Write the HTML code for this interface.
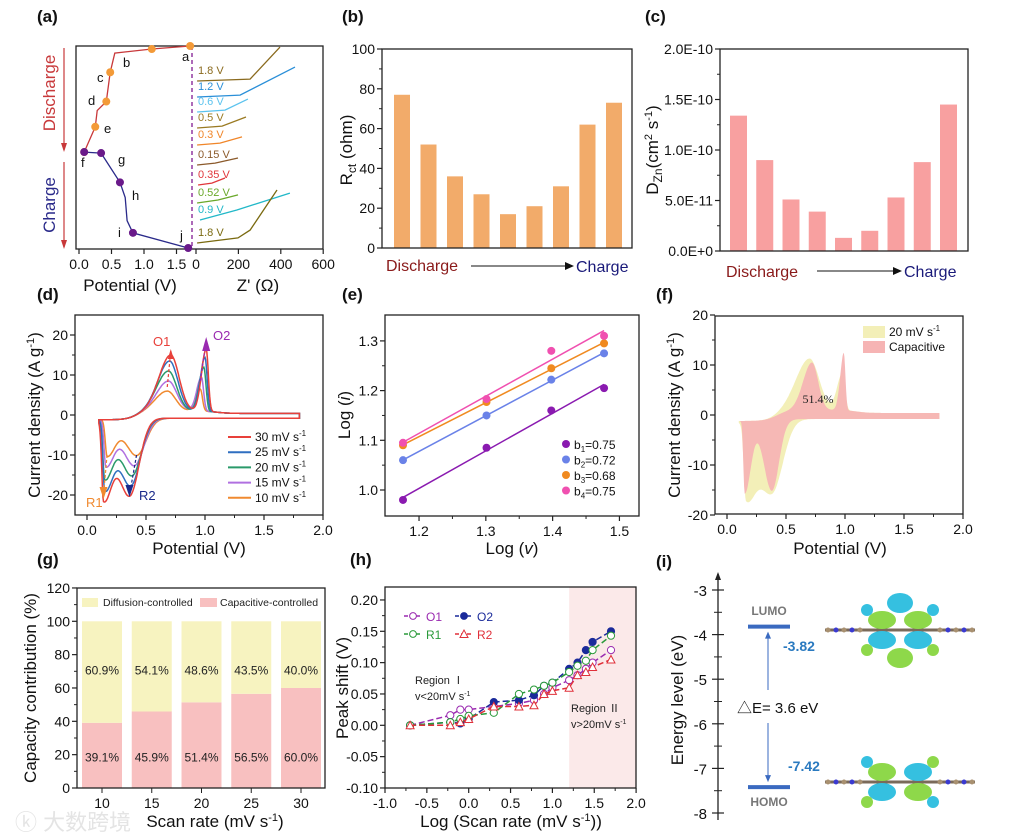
<!DOCTYPE html>
<html><head><meta charset="utf-8"><style>
html,body{margin:0;padding:0;background:#fff;}
svg{display:block;font-family:"Liberation Sans","Noto Sans CJK SC",sans-serif;}
</style></head><body>
<svg id="fig" width="1019" height="837" viewBox="0 0 1019 837" xmlns="http://www.w3.org/2000/svg">
<rect x="0" y="0" width="1019" height="837" fill="#fff"/>
<g font-weight="bold" font-size="17" fill="#111">
<text x="37" y="22">(a)</text>
<text x="342" y="22">(b)</text>
<text x="645" y="22">(c)</text>
<text x="37" y="300">(d)</text>
<text x="342" y="300">(e)</text>
<text x="656" y="300">(f)</text>
<text x="37" y="565">(g)</text>
<text x="350" y="565">(h)</text>
<text x="656" y="567">(i)</text>
</g>
<text x="15" y="830" font-size="22" fill="#e4e4e4">ⓚ 大数跨境</text>
</svg>
<script>
const NS='http://www.w3.org/2000/svg';
const svg=document.getElementById('fig');
function mk(tag,attrs,parent){const e=document.createElementNS(NS,tag);for(const k in attrs)e.setAttribute(k,attrs[k]);(parent||svg).appendChild(e);return e;}
function txt(x,y,s,attrs,n,parent){const e=mk('text',Object.assign({x:x,y:y},attrs||{}),parent);e.textContent=s;


return e;}
function box(x0,y0,x1,y1,n){const r=mk('rect',{x:x0,y:y0,width:x1-x0,height:y1-y0,fill:'none',stroke:'#222','stroke-width':1.3});

}
function yTicks(vals,labels,fy,x,n,minor){vals.forEach((v,i)=>{const y=fy(v);mk('line',{x1:x-5,x2:x,y1:y,y2:y,stroke:'#222','stroke-width':1.2});
if(minor&&i<vals.length-1){const ym=(y+fy(vals[i+1]))/2;mk('line',{x1:x-3,x2:x,y1:ym,y2:ym,stroke:'#222'});}
txt(x-7,y+5,labels[i],{'text-anchor':'end','font-size':14,fill:'#111'},n);});}
function xTicks(vals,labels,fx,y,n,minor){vals.forEach((v,i)=>{const x=fx(v);mk('line',{x1:x,x2:x,y1:y,y2:y+5,stroke:'#222','stroke-width':1.2});
if(minor&&i<vals.length-1){const xm=(x+fx(vals[i+1]))/2;mk('line',{x1:xm,x2:xm,y1:y,y2:y+3,stroke:'#222'});}
txt(x,y+20,labels[i],{'text-anchor':'middle','font-size':14,fill:'#111'},n);});}
function rotTitle(x,y,s,n,size){const g=mk('g',{transform:'translate('+x+' '+y+') rotate(-90)'});
const t=txt(0,0,s,{'text-anchor':'middle','font-size':size||16,fill:'#111'},n,g);return t;}
function pathD(pts){return pts.map((p,i)=>(i?'L':'M')+p[0].toFixed(1)+' '+p[1].toFixed(1)).join(' ');}

/* ============ PANEL A DATA ============ */
const aDisPot=[1.71,1.12,0.55,0.48,0.42,0.28,0.25,0.08];
const aDisFrac=[0,0.015,0.035,0.13,0.275,0.32,0.40,0.525];
const aDisDot=[1,1,0,1,1,0,1,1];
const aChgPot=[0.08,0.34,0.63,0.71,0.74,0.83,1.68];
const aChgFrac=[0.525,0.53,0.675,0.75,0.865,0.925,1.0];
const aChgDot=[1,1,1,0,0,1,1];
const eisLabels=['1.8 V','1.2 V','0.6 V','0.5 V','0.3 V','0.15 V','0.35 V','0.52 V','0.9 V','1.8 V'];
const eisColors=['#8a6a1e','#2a8fd8','#5cc3ee','#9a7a22','#f0862a','#8b5a2b','#e0363a','#6aa82a','#22b8c8','#7a6a10'];
const eisBase=[81,97,112,128,145,165,185,203,220,243];
const eisZre=[[5,255,396],[5,208,467],[5,137,245],[5,123,236],[5,113,217],[5,90,198],[10,75,137],[5,104,198],[19,193,443],[5,198,255,382]];
const eisZim=[[0,9,160],[0,9,141],[0,9,61],[0,9,52],[0,9,38],[0,9,33],[0,9,33],[0,14,38],[0,47,127],[0,24,61,250]];
const xa=v=>79+65*v, ya=f=>46+f*202, xz=z=>196+0.212*z;
box(76,46,323,249,'panel-a-plot-area');
mk('line',{x1:192,x2:192,y1:46,y2:249,stroke:'#8a2a9a','stroke-width':1.4,'stroke-dasharray':'4 3'});
xTicks([0,0.5,1.0,1.5],['0.0','0.5','1.0','1.5'],xa,249,'a-potential-tick');
xTicks([0,200,400,600],['0','200','400','600'],xz,249,'a-zre-tick');
txt(130,291,'Potential (V)',{'text-anchor':'middle','font-size':17,fill:'#111'},'a-x-title-potential');
txt(258,291,"Z' (Ω)",{'text-anchor':'middle','font-size':17,fill:'#111'},'a-x-title-zre');
mk('line',{x1:64,x2:64,y1:48,y2:150,stroke:'#c8383a','stroke-width':1.2});
mk('path',{d:'M61 143 L64 152 L67 143 Z',fill:'#c8383a'});
mk('line',{x1:64,x2:64,y1:162,y2:247,stroke:'#c8383a','stroke-width':1.2});
mk('path',{d:'M61 240 L64 249 L67 240 Z',fill:'#c8383a'});
rotTitle(55,93,'Discharge','discharge-axis-label',17).setAttribute('fill','#c8383a');
rotTitle(55,205,'Charge','charge-axis-label',17).setAttribute('fill','#2a2a8a');
const disPts=aDisPot.map((p,i)=>[xa(p),ya(aDisFrac[i])]);
const disLine=mk('path',{d:pathD(disPts),fill:'none',stroke:'#c8383a','stroke-width':1.3});


const chgPts=aChgPot.map((p,i)=>[xa(p),ya(aChgFrac[i])]);
const chgLine=mk('path',{d:pathD(chgPts),fill:'none',stroke:'#2a2a8a','stroke-width':1.3});


disPts.forEach((p,i)=>{if(aDisDot[i]){const c=mk('circle',{cx:p[0],cy:p[1],r:4,fill:'#f39a38'});

}});
chgPts.forEach((p,i)=>{if(aChgDot[i]){const c=mk('circle',{cx:p[0],cy:p[1],r:4,fill:'#6a1a8a'});

}});
[['a',182,61],['b',123,67],['c',97,82],['d',88,105],['e',104,133],['f',81,167],['g',118,164],['h',132,200],['i',118,237],['j',180,240]].forEach(l=>txt(l[1],l[2],l[0],{'font-size':13,fill:'#111'},'state-letter'));
eisLabels.forEach((lab,k)=>{const pts=eisZre[k].map((z,j)=>[xz(z),eisBase[k]-eisZim[k][j]*0.212]);
const p=mk('path',{d:pathD(pts),fill:'none',stroke:eisColors[k],'stroke-width':1.3});


txt(198,eisBase[k]-7,lab,{'font-size':11,fill:eisColors[k]},'eis-label');});

/* ============ PANEL B ============ */
const bVals=[77,52,36,27,17,21,31,62,73];
const yb=v=>248-1.99*v, xb=i=>394+26.5*i;
bVals.forEach((v,i)=>{const r=mk('rect',{x:xb(i),y:yb(v),width:16,height:248-yb(v),fill:'#f2ab6a'});

});
box(382,49,632,248,'panel-b-plot-area');
yTicks([0,20,40,60,80,100],['0','20','40','60','80','100'],yb,382,'b-y-tick',true);
const rb=rotTitle(352,150,'','b-y-title',17);rb.innerHTML='R<tspan font-size="12" dy="4">ct</tspan><tspan dy="-4"> (ohm)</tspan>';
txt(386,271,'Discharge',{'font-size':16,fill:'#8a1a1a'},'b-discharge-label');
mk('line',{x1:471,x2:565,y1:266,y2:266,stroke:'#111'});mk('path',{d:'M565 262 L574 266 L565 270 Z',fill:'#111'});
txt(576,272,'Charge',{'font-size':16,fill:'#1a1a7a'},'b-charge-label');

/* ============ PANEL C ============ */
const cVals=[1.34,0.90,0.51,0.39,0.13,0.20,0.53,0.88,1.45];
const yc=v=>251-101*v, xc=i=>730+26.25*i;
cVals.forEach((v,i)=>{const r=mk('rect',{x:xc(i),y:yc(v),width:17,height:251-yc(v),fill:'#f8a0a0'});

});
box(720,49,968,251,'panel-c-plot-area');
yTicks([0,0.5,1.0,1.5,2.0],['0.0E+0','5.0E-11','1.0E-10','1.5E-10','2.0E-10'],yc,720,'c-y-tick',true);
const rc=rotTitle(658,150,'','c-y-title',17);rc.innerHTML='D<tspan font-size="12" dy="4">Zn</tspan><tspan dy="-4">(cm</tspan><tspan font-size="11" dy="-6">2</tspan><tspan dy="6"> s</tspan><tspan font-size="11" dy="-6">-1</tspan><tspan dy="6">)</tspan>';
txt(726,277,'Discharge',{'font-size':16,fill:'#8a1a1a'},'c-discharge-label');
mk('line',{x1:817,x2:893,y1:271,y2:271,stroke:'#111'});mk('path',{d:'M893 267 L902 271 L893 275 Z',fill:'#111'});
txt(904,277,'Charge',{'font-size':16,fill:'#1a1a7a'},'c-charge-label');

/* ============ PANEL D (CV) ============ */
const dRates=['30','25','20','15','10'];
const dColors=['#e8403a','#2f6fc0','#2a9a6a','#b070e0','#f08a30'];
const dO1=[16,14.5,12,9.5,7];
const dO2=[18.5,16.5,14,11.5,8.5];
const dR1=[-20.5,-18,-15.5,-12.5,-10];
const dR2=[-20,-17.5,-15,-12.5,-10];
const dPO1=[0.71,0.70,0.69,0.69,0.68];
const dPO2=[1.01,1.0,0.99,0.97,0.96];
const dPR1=[0.14,0.15,0.15,0.16,0.17];
const dPR2=[0.36,0.37,0.38,0.40,0.42];
const xd=E=>87+118*E, yd=I=>415-4*I;
function g2(E,p,sl,sr){const s=E<p?sl:sr;return Math.exp(-0.5*((E-p)/s)**2);}
function sig(x){return 1/(1+Math.exp(-x));}
function cvPoints(o1,o2,r1,r2,p1,p2,q1,q2,sc){const up=[],dn=[];
for(let E=0.1;E<=1.8001;E+=0.005){const b=-1.2+2.2*sig((E-0.42)/0.05)-0.6*sig((E-1.1)/0.05);
up.push([E,b+(o1-2)*g2(E,p1,0.1*sc,0.07*sc)+(o2-3)*g2(E,p2,0.04*sc,0.018*sc)]);}
for(let E=1.8;E>=0.0999;E-=0.005){const b=-0.8-0.4*sig((0.5-E)/0.05);
dn.push([E,b+(r2+1)*g2(E,q2,0.09*sc,0.08*sc)+(r1+1)*g2(E,q1,0.015*sc,0.07*sc)]);}
return up.concat(dn);}
box(75,315,323,515,'panel-d-plot-area');
yTicks([-20,-10,0,10,20],['-20','-10','0','10','20'],yd,75,'d-y-tick',true);
xTicks([0,0.5,1.0,1.5,2.0],['0.0','0.5','1.0','1.5','2.0'],xd,515,'d-x-tick',true);
rotTitle(40,415,'','d-y-title',17).innerHTML='Current density (A g<tspan font-size="11" dy="-6">-1</tspan><tspan dy="6">)</tspan>';
txt(199,554,'Potential (V)',{'text-anchor':'middle','font-size':17,fill:'#111'},'d-x-title');
for(let i=dRates.length-1;i>=0;i--){const pts=cvPoints(dO1[i],dO2[i],dR1[i],dR2[i],dPO1[i],dPO2[i],dPR1[i],dPR2[i],1).map(p=>[xd(p[0]),yd(p[1])]);
const p=mk('path',{d:pathD(pts)+' Z',fill:'none',stroke:dColors[i],'stroke-width':1.5});

}
mk('line',{x1:xd(0.68),y1:yd(7),x2:xd(0.71),y2:yd(16),stroke:'#e8403a','stroke-dasharray':'3 2','stroke-width':1.2});
mk('path',{d:`M${xd(0.71)-3} ${yd(14)} L${xd(0.71)} ${yd(16.5)} L${xd(0.71)+3} ${yd(14)} Z`,fill:'#e8403a'});
mk('line',{x1:xd(0.96),y1:yd(8.5),x2:xd(1.01),y2:yd(18.5),stroke:'#9a2ab0','stroke-dasharray':'3 2','stroke-width':1.2});
mk('path',{d:`M${xd(1.01)-4} ${yd(16)} L${xd(1.01)} ${yd(19.5)} L${xd(1.01)+4} ${yd(16)} Z`,fill:'#9a2ab0'});
mk('line',{x1:xd(0.42),y1:yd(-10),x2:xd(0.36),y2:yd(-20),stroke:'#1a2a8a','stroke-dasharray':'3 2','stroke-width':1.2});
mk('path',{d:`M${xd(0.36)-4} ${yd(-17.5)} L${xd(0.36)} ${yd(-20.5)} L${xd(0.36)+4} ${yd(-17.5)} Z`,fill:'#1a2a8a'});
mk('line',{x1:xd(0.17),y1:yd(-10),x2:xd(0.14),y2:yd(-20),stroke:'#f08a30','stroke-dasharray':'3 2','stroke-width':1.2});
mk('path',{d:`M${xd(0.14)-4} ${yd(-18)} L${xd(0.14)} ${yd(-21)} L${xd(0.14)+4} ${yd(-18)} Z`,fill:'#f08a30'});
txt(153,346,'O1',{'font-size':13,fill:'#e8403a'},'o1-label');
txt(213,340,'O2',{'font-size':13,fill:'#9a2ab0'},'o2-label');
txt(86,507,'R1',{'font-size':13,fill:'#f08a30'},'r1-label');
txt(139,500,'R2',{'font-size':13,fill:'#1a2a8a'},'r2-label');
dRates.forEach((r,i)=>{const y=437+15.2*i;const l=mk('line',{x1:228,x2:251,y1:y,y2:y,stroke:dColors[i],'stroke-width':2});


txt(255,y+4,'',{'font-size':12,fill:'#111'},'d-legend-entry').innerHTML=r+' mV s<tspan font-size="8" dy="-5">-1</tspan>';});

/* ============ PANEL E ============ */
const eLogV=[1.176,1.301,1.398,1.477];
const eNames=['b1','b2','b3','b4'];
const eBvals=['0.75','0.72','0.68','0.75'];
const eColors=['#8a1ab0','#6a82e8','#f08a20','#f050b0'];
const eS1=[0.980,1.085,1.160,1.205];
const eS2=[1.060,1.150,1.222,1.275];
const eS3=[1.090,1.177,1.245,1.295];
const eS4=[1.095,1.183,1.280,1.310];
const eSeries=[eS1,eS2,eS3,eS4];
const xe=v=>403+(v-1.176)*668, ye=v=>490-(v-1.0)*497;
box(385,315,639,516,'panel-e-plot-area');
yTicks([1.0,1.1,1.2,1.3],['1.0','1.1','1.2','1.3'],ye,385,'e-y-tick',true);
xTicks([1.2,1.3,1.4,1.5],['1.2','1.3','1.4','1.5'],xe,516,'e-x-tick',true);
rotTitle(350,415,'','e-y-title',17).innerHTML='Log (<tspan font-style="italic">i</tspan>)';
txt(512,554,'',{'text-anchor':'middle','font-size':17,fill:'#111'},'e-x-title').innerHTML='Log (<tspan font-style="italic">v</tspan>)';
eSeries.forEach((s,k)=>{const n=s.length;const mx=eLogV.reduce((a,b)=>a+b)/n,my=s.reduce((a,b)=>a+b)/n;
let sxy=0,sxx=0;eLogV.forEach((x,i)=>{sxy+=(x-mx)*(s[i]-my);sxx+=(x-mx)**2;});const m=sxy/sxx,c=my-m*mx;
const l=mk('line',{x1:xe(1.176),y1:ye(m*1.176+c),x2:xe(1.477),y2:ye(m*1.477+c),stroke:eColors[k],'stroke-width':1.5});


s.forEach((v,i)=>{const d=mk('circle',{cx:xe(eLogV[i]),cy:ye(v),r:4,fill:eColors[k]});

});
const y=444+15.5*k;mk('circle',{cx:566,cy:y,r:4,fill:eColors[k]});
txt(574,y+5,'',{'font-size':12,fill:'#111'},'e-legend-entry').innerHTML='b<tspan font-size="8" dy="3">'+(k+1)+'</tspan><tspan dy="-3">='+eBvals[k]+'</tspan>';});

/* ============ PANEL F ============ */
const fTotal=[12.3,10.5,-15.5,-15.3];
const fCap=[11.5,14.5,-15.5,-15];
const xf=E=>727+118*E, yf=I=>415-5*I;
box(715,316,963,514,'panel-f-plot-area');
const ftot=cvPoints(fTotal[0],fTotal[1],fTotal[2],fTotal[3],0.70,0.98,0.16,0.38,1.15).map(p=>[xf(p[0]),yf(p[1])]);
const fy1=mk('path',{d:pathD(ftot)+' Z',fill:'#f3efb8',stroke:'none'});


const fcap=cvPoints(fCap[0],fCap[1],fCap[2],fCap[3],0.72,0.99,0.15,0.38,0.75).map(p=>[xf(p[0]),yf(p[1])]);
const fp=mk('path',{d:pathD(fcap)+' Z',fill:'#f6b4b4',stroke:'none','fill-opacity':0.95});


yTicks([-20,-10,0,10,20],['-20','-10','0','10','20'],yf,715,'f-y-tick',true);
xTicks([0,0.5,1.0,1.5,2.0],['0.0','0.5','1.0','1.5','2.0'],xf,514,'f-x-tick',true);
rotTitle(680,415,'','f-y-title',17).innerHTML='Current density (A g<tspan font-size="11" dy="-6">-1</tspan><tspan dy="6">)</tspan>';
txt(840,554,'Potential (V)',{'text-anchor':'middle','font-size':17,fill:'#111'},'f-x-title');
txt(818,403,'51.4%',{'text-anchor':'middle','font-size':12,'font-family':'Liberation Serif',fill:'#222'},'f-percent-label');
mk('rect',{x:863,y:326,width:22,height:12,fill:'#f3efb8'});
txt(889,336,'',{'font-size':12,fill:'#111'},'f-legend-total').innerHTML='20 mV s<tspan font-size="8" dy="-5">-1</tspan>';
mk('rect',{x:863,y:341,width:22,height:12,fill:'#f6b4b4'});
txt(889,351,'Capacitive',{'font-size':12,fill:'#111'},'f-legend-capacitive');

/* ============ PANEL G ============ */
const gRates=['10','15','20','25','30'];
const gCap=[39.1,45.9,51.4,56.5,60.0];
const gDif=[60.9,54.1,48.6,43.5,40.0];
const yg=p=>788-p*1.667, xg=i=>102+49.75*i;
gRates.forEach((r,i)=>{const c=mk('rect',{x:xg(i)-20,y:yg(gCap[i]),width:40,height:yg(0)-yg(gCap[i]),fill:'#f8c0c0'});


const d=mk('rect',{x:xg(i)-20,y:yg(gCap[i]+gDif[i]),width:40,height:yg(gCap[i])-yg(gCap[i]+gDif[i]),fill:'#f7f3c0'});


txt(xg(i),yg(71)+5,gDif[i].toFixed(1)+'%',{'text-anchor':'middle','font-size':12,fill:'#222'},'diffusion-value');
txt(xg(i),yg(19)+5,gCap[i].toFixed(1)+'%',{'text-anchor':'middle','font-size':12,fill:'#222'},'capacitive-value');});
box(77,588,325,788,'panel-g-plot-area');
yTicks([0,20,40,60,80,100,120],['0','20','40','60','80','100','120'],yg,77,'g-y-tick',true);
gRates.forEach((r,i)=>{mk('line',{x1:xg(i),x2:xg(i),y1:788,y2:793,stroke:'#222'});txt(xg(i),808,r,{'text-anchor':'middle','font-size':14,fill:'#111'},'g-x-tick');});
rotTitle(36,688,'Capacity contribution (%)','g-y-title',17);
txt(215,827,'',{'text-anchor':'middle','font-size':17,fill:'#111'},'g-x-title').innerHTML='Scan rate (mV s<tspan font-size="11" dy="-6">-1</tspan><tspan dy="6">)</tspan>';
mk('rect',{x:82,y:598,width:16,height:9,fill:'#f7f3c0'});
txt(103,606,'Diffusion-controlled',{'font-size':10.5,fill:'#222'},'g-legend-diffusion');
mk('rect',{x:200,y:598,width:17,height:9,fill:'#f8c0c0'});
txt(220,606,'Capacitive-controlled',{'font-size':10.5,fill:'#222'},'g-legend-capacitive');

/* ============ PANEL H ============ */
const hLog=[-0.7,-0.22,-0.1,0,0.3,0.6,0.78,0.9,1.0,1.2,1.3,1.4,1.48,1.7];
const hO1=[0,0.016,0.025,0.025,0.030,0.035,0.040,0.050,0.060,0.072,0.080,0.090,0.100,0.120];
const hO2=[0,0.005,0.003,0.010,0.037,0.040,0.048,0.063,0.068,0.090,0.100,0.120,0.133,0.150];
const hR1=[0,0.005,0.010,0.015,0.020,0.050,0.057,0.063,0.068,0.085,0.095,0.103,0.120,0.143];
const hR2=[0,0,0.005,0.010,0.030,0.030,0.032,0.050,0.055,0.060,0.080,0.085,0.093,0.105];
const xh=v=>385+(v+1)*83.7, yh=v=>725.3-v*626.7;
const hreg=mk('rect',{x:xh(1.2),y:587,width:636-xh(1.2),height:201,fill:'#fbe9e9'});


box(385,587,636,788,'panel-h-plot-area');
yTicks([-0.10,-0.05,0,0.05,0.10,0.15,0.20],['-0.10','-0.05','0.00','0.05','0.10','0.15','0.20'],yh,385,'h-y-tick',true);
xTicks([-1,-0.5,0,0.5,1,1.5,2],['-1.0','-0.5','0.0','0.5','1.0','1.5','2.0'],xh,788,'h-x-tick',true);
rotTitle(348,688,'Peak shift (V)','h-y-title',17);
txt(511,827,'',{'text-anchor':'middle','font-size':17,fill:'#111'},'h-x-title').innerHTML='Log (Scan rate (mV s<tspan font-size="11" dy="-6">-1</tspan><tspan dy="6">))</tspan>';
const hSer=[['O1',hO1,'#9a2ab0','circle-open'],['O2',hO2,'#1a2a9a','circle-fill'],['R1',hR1,'#2a9a3a','circle-open'],['R2',hR2,'#e0303a','tri']];
hSer.forEach((s,k)=>{const pts=hLog.map((x,i)=>[xh(x),yh(s[1][i])]);
const l=mk('path',{d:pathD(pts),fill:'none',stroke:s[2],'stroke-width':1.5,'stroke-dasharray':'6 3'});


pts.forEach(p=>{let m;if(s[3]==='tri')m=mk('path',{d:`M${p[0]-4} ${p[1]+3.5} L${p[0]} ${p[1]-4} L${p[0]+4} ${p[1]+3.5} Z`,fill:'#fff',stroke:s[2]});
else m=mk('circle',{cx:p[0],cy:p[1],r:3.6,fill:s[3]==='circle-fill'?s[2]:'#fff',stroke:s[2]});

});
const lx=k%2?455:404, ly=k<2?616:634;
mk('line',{x1:lx,x2:lx+18,y1:ly,y2:ly,stroke:s[2],'stroke-width':1.5,'stroke-dasharray':'4 2'});
if(s[3]==='tri')mk('path',{d:`M${lx+5} ${ly+3.5} L${lx+9} ${ly-4} L${lx+13} ${ly+3.5} Z`,fill:'#fff',stroke:s[2]});
else mk('circle',{cx:lx+9,cy:ly,r:3.4,fill:s[3]==='circle-fill'?s[2]:'#fff',stroke:s[2]});
txt(lx+22,ly+5,s[0],{'font-size':12,fill:s[2]},'h-legend-'+s[0]);});
txt(415,684,'Region Ⅰ',{'font-size':11,fill:'#222'},'region-1-label');
txt(415,700,'',{'font-size':11,fill:'#222'},'region-1-condition').innerHTML='v&lt;20mV s<tspan font-size="7" dy="-4">-1</tspan>';
txt(571,712,'Region Ⅱ',{'font-size':11,fill:'#222'},'region-2-label');
txt(571,728,'',{'font-size':11,fill:'#222'},'region-2-condition').innerHTML='v&gt;20mV s<tspan font-size="7" dy="-4">-1</tspan>';

/* ============ PANEL I ============ */
const iLevels=[-3.82,-7.42];
const iNames=['LUMO','HOMO'];
const iTicks=[-3,-4,-5,-6,-7,-8];
const yi=e=>590+(-3-e)*44.6;
mk('line',{x1:718,x2:718,y1:574,y2:820,stroke:'#222','stroke-width':1.3});
mk('path',{d:'M715 580 L718 572 L721 580 Z',fill:'#222'});
iTicks.forEach((t,i)=>{const y=yi(t);mk('line',{x1:712,x2:724,y1:y,y2:y,stroke:'#222','stroke-width':1.2});
if(i<iTicks.length-1){const ym=yi(t-0.5);mk('line',{x1:714,x2:722,y1:ym,y2:ym,stroke:'#222'});}
txt(707,y+6,String(t),{'text-anchor':'end','font-size':15,fill:'#111'},'i-y-tick');});
rotTitle(683,700,'Energy level (eV)','i-y-title',17);
iLevels.forEach((e,k)=>{const l=mk('line',{x1:748,x2:790,y1:yi(e),y2:yi(e),stroke:'#3a6ac0','stroke-width':4});


txt(769,k?806:615,iNames[k],{'text-anchor':'middle','font-size':12,'font-weight':'bold',fill:'#777'},iNames[k].toLowerCase()+'-label');
txt(k?788:783,k?771:651,e.toFixed(2),{'font-size':14,'font-weight':'bold',fill:'#2a7ac0'},iNames[k].toLowerCase()+'-value');});
mk('line',{x1:768,x2:768,y1:yi(iLevels[0])+6,y2:690,stroke:'#3a6ac0'});
mk('path',{d:`M765 ${yi(iLevels[0])+12} L768 ${yi(iLevels[0])+5} L771 ${yi(iLevels[0])+12} Z`,fill:'#3a6ac0'});
mk('line',{x1:768,x2:768,y1:723,y2:yi(iLevels[1])-6,stroke:'#3a6ac0'});
mk('path',{d:`M765 ${yi(iLevels[1])-12} L768 ${yi(iLevels[1])-5} L771 ${yi(iLevels[1])-12} Z`,fill:'#3a6ac0'});
txt(737,713,'△E= 3.6 eV',{'font-size':15,fill:'#111'},'delta-e-label');
function orbital(cx,cy,flip,n){const g=mk('g',{});


const B='#35c0e0',G='#8ed84a';
mk('line',{x1:cx-75,x2:cx+75,y1:cy,y2:cy,stroke:'#7a6a5a','stroke-width':3},g);
for(let s of [-1,1]){for(let j=0;j<5;j++)mk('circle',{cx:cx+s*(40+j*8),cy:cy,r:2.5,fill:j%2?'#3a3ad0':'#a89070'},g);}
mk('ellipse',{cx:cx,cy:cy-27,rx:13,ry:10,fill:flip?'none':B},g);
mk('ellipse',{cx:cx-18,cy:cy-10,rx:14,ry:9,fill:G},g);
mk('ellipse',{cx:cx+18,cy:cy-10,rx:14,ry:9,fill:flip?B:G},g);
mk('ellipse',{cx:cx-18,cy:cy+10,rx:14,ry:9,fill:B},g);
mk('ellipse',{cx:cx+18,cy:cy+10,rx:14,ry:9,fill:flip?G:B},g);
mk('ellipse',{cx:cx,cy:cy+28,rx:13,ry:10,fill:flip?'none':G},g);
mk('circle',{cx:cx-33,cy:cy-20,r:6,fill:B},g);mk('circle',{cx:cx+33,cy:cy-20,r:6,fill:flip?G:B},g);
mk('circle',{cx:cx-33,cy:cy+20,r:6,fill:G},g);mk('circle',{cx:cx+33,cy:cy+20,r:6,fill:flip?B:G},g);}
orbital(900,630,false,'lumo-orbital');
orbital(900,782,true,'homo-orbital');
</script>
</body></html>
